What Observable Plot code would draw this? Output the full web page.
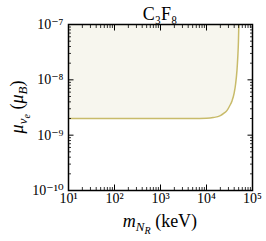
<!DOCTYPE html>
<html>
<head>
<meta charset="utf-8">
<script src="https://cdn.jsdelivr.net/npm/d3@7"></script>
<script src="https://cdn.jsdelivr.net/npm/@observablehq/plot@0.6"></script>
<style>
html, body { margin: 0; padding: 0; background: #fff; }
#chart { width: 266px; height: 241px; }
</style>
</head>
<body>
<div id="chart"></div>
<script>
// ---- data ----
const massKeV = [10, 100, 1000, 5000, 10000, 14000, 20000, 24000, 28000, 32000, 36000, 40000, 43000, 46000, 48000, 49500, 50500];
const muLimit = [2.0e-9, 2.0e-9, 2.0e-9, 2.0e-9, 2.02e-9, 2.08e-9, 2.26e-9, 2.5e-9, 2.8e-9, 3.4e-9, 4.2e-9, 5.8e-9, 8.5e-9, 1.5e-8, 2.7e-8, 5.0e-8, 1.0e-7];
const xTicks = [10, 100, 1000, 10000, 100000];
const xTickLabels = ["10¹", "10²", "10³", "10⁴", "10⁵"];
const yTicks = [1e-10, 1e-9, 1e-8, 1e-7];
const yTickLabels = ["10⁻¹⁰", "10⁻⁹", "10⁻⁸", "10⁻⁷"];
const titleText = "C₃F₈";

const data = massKeV.map((m, i) => ({m, mu: muLimit[i]}));
const yTop = yTicks[yTicks.length - 1];

function minorTicks(majors) {
  const out = [];
  for (let i = 0; i < majors.length - 1; i++)
    for (let k = 2; k <= 9; k++) out.push(majors[i] * k);
  return out;
}
const xMinor = minorTicks(xTicks);
const yMinor = minorTicks(yTicks);

const serif = "'Liberation Serif', 'DejaVu Serif', serif";
const W = 266, H = 241;
const mL = 68, mR = 14, mT = 24, mB = 51;

const MAJ = 5.5, MIN = 3;
const insetKey = {bottom: "insetBottom", top: "insetTop", left: "insetLeft", right: "insetRight"};
const tickAxes = [];
for (const anchor of ["bottom", "top"]) {
  tickAxes.push(Plot.axisX({anchor, ticks: xTicks, tickSize: MAJ, [insetKey[anchor]]: MAJ, text: null, label: null, strokeWidth: 1}));
  tickAxes.push(Plot.axisX({anchor, ticks: xMinor, tickSize: MIN, [insetKey[anchor]]: MIN, text: null, label: null, strokeWidth: 0.8}));
}
for (const anchor of ["left", "right"]) {
  tickAxes.push(Plot.axisY({anchor, ticks: yTicks, tickSize: MAJ, [insetKey[anchor]]: MAJ, text: null, label: null, strokeWidth: 1}));
  tickAxes.push(Plot.axisY({anchor, ticks: yMinor, tickSize: MIN, [insetKey[anchor]]: MIN, text: null, label: null, strokeWidth: 0.8}));
}

const chart = Plot.plot({
  width: W,
  height: H,
  marginLeft: mL,
  marginRight: mR,
  marginTop: mT,
  marginBottom: mB,
  style: {fontFamily: serif, background: "#fff", color: "#000"},
  x: {type: "log", domain: [xTicks[0], xTicks[xTicks.length - 1]]},
  y: {type: "log", domain: [yTicks[0], yTop]},
  marks: [
    Plot.areaY(data, {x: "m", y1: "mu", y2: () => yTop, fill: "#f7f6ee", clip: true}),
    Plot.line(data, {x: "m", y: "mu", stroke: "#c8bb6a", strokeWidth: 1.5, clip: true, curve: "monotone-x"}),
    Plot.axisX({anchor: "bottom", ticks: xTicks, tickSize: 0, tickPadding: 3,
      tickFormat: (d) => xTickLabels[xTicks.indexOf(d)], fontSize: 14, label: null}),
    Plot.axisY({anchor: "left", ticks: yTicks, tickSize: 0, tickPadding: 5,
      tickFormat: (d) => yTickLabels[yTicks.indexOf(d)], fontSize: 14, label: null}),
    ...tickAxes,
    Plot.frame({stroke: "#000", strokeWidth: 1.5})
  ]
});

document.getElementById("chart").appendChild(chart);

// titles with sub/superscripts
const svg = d3.select(chart);
const cx = mL + (W - mL - mR) / 2;

svg.append("text")
  .attr("x", cx).attr("y", 20)
  .attr("text-anchor", "middle")
  .attr("font-family", serif).attr("font-size", 18).attr("fill", "#000")
  .text(titleText);

const xl = svg.append("text")
  .attr("x", cx).attr("y", 227)
  .attr("text-anchor", "middle")
  .attr("font-family", serif).attr("font-size", 18).attr("fill", "#000");
xl.append("tspan").attr("font-style", "italic").text("m");
xl.append("tspan").attr("font-style", "italic").attr("font-size", 13).attr("dy", 4).text("N");
xl.append("tspan").attr("font-style", "italic").attr("font-size", 10).attr("dy", 3).text("R");
xl.append("tspan").attr("dy", -7).text(" (keV)");

const yc = mT + (H - mT - mB) / 2;
const yl = svg.append("text")
  .attr("transform", `translate(23,${yc}) rotate(-90)`)
  .attr("text-anchor", "middle")
  .attr("font-family", serif).attr("font-size", 18).attr("fill", "#000");
yl.append("tspan").attr("font-style", "italic").text("μ");
yl.append("tspan").attr("font-style", "italic").attr("font-size", 13).attr("dy", 4).text("ν");
yl.append("tspan").attr("font-style", "italic").attr("font-size", 10).attr("dy", 3).text("e");
yl.append("tspan").attr("dy", -7).text(" (");
yl.append("tspan").attr("font-style", "italic").text("μ");
yl.append("tspan").attr("font-style", "italic").attr("font-size", 13).attr("dy", 4).text("B");
yl.append("tspan").attr("dy", -4).text(")");
</script>
</body>
</html>
